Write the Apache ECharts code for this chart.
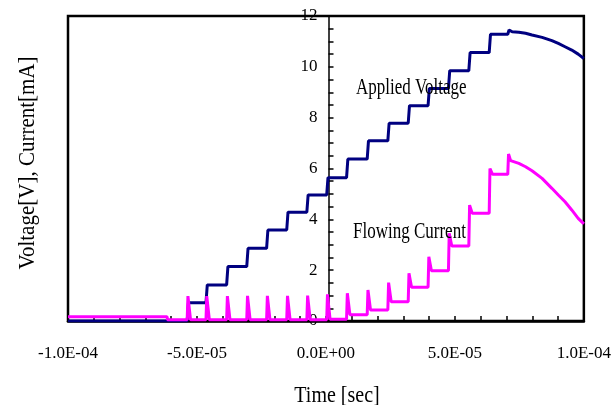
<!DOCTYPE html>
<html>
<head>
<meta charset="utf-8">
<script src="https://cdn.jsdelivr.net/npm/echarts@6/dist/echarts.min.js"></script>
<style>
  html, body { margin: 0; padding: 0; background: #fff; }
  #chart { width: 614px; height: 405px; }
</style>
</head>
<body>
<div id="chart"></div>
<script>
// times are in microseconds, the axis labels convert them to seconds
var stepTimes = [-53.8, -46.5, -38.5, -30.7, -23.0, -15.2, -7.4, 0.3, 8.0, 16.0, 24.0, 31.9, 39.6, 47.5, 55.4, 63.3, 70.5];
var voltageLevels = [0.72, 1.42, 2.14, 2.86, 3.58, 4.28, 4.96, 5.64, 6.37, 7.09, 7.78, 8.47, 9.15, 9.85, 10.56, 11.28, 11.45];
var voltageDecayTimes = [72.2, 74.8, 77.4, 79.9, 83.8, 87.6, 90.1, 92.7, 95.3, 97.8, 100];
var voltageDecay = [11.38, 11.36, 11.32, 11.25, 11.16, 11.03, 10.92, 10.79, 10.66, 10.5, 10.33];

var currentLeadTimes = [-100, -61.6];
var currentLead = [0.17, 0.17];
var spikePeaks = [0.98, 0.98, 0.98, 0.99, 0.99, 0.99, 1.0, 1.05, 1.09, 1.22, 1.51, 1.88, 2.53, 3.45, 4.56, 6.0, 6.57];
var currentBase = [0.05, 0.05, 0.05, 0.05, 0.05, 0.05, 0.05, 0.07, 0.25, 0.43, 0.76, 1.33, 1.98, 2.95, 4.24, 5.77];
var currentDecayTimes = [71.6, 74.8, 77.4, 79.9, 83.8, 87.6, 90.1, 92.7, 95.3, 97.8, 100];
var currentDecay = [6.31, 6.2, 6.07, 5.91, 5.61, 5.22, 4.96, 4.69, 4.37, 4.04, 3.82];

var xTicks = { min: -100, max: 100, interval: 50 };
var yTicks = { min: 0, max: 12, interval: 2 };

document.addEventListener('DOMContentLoaded', function() {
    var dom = document.getElementById('chart');
    var chart = echarts.init(dom);

    var gridLeft = 68, gridRight = 25;
    var plotWidth = 614 - gridLeft - gridRight;
    // the y axis sits at t = 0, so shift it in from the left edge of the grid
    var yAxisShift = plotWidth * (0 - xTicks.min) / (xTicks.max - xTicks.min);

    // step voltage: flat level, then a short rise at each step time
    var voltageData = [[-100, 0]];
    var prev = 0;
    for (var i = 0; i < stepTimes.length; i++) {
        voltageData.push([stepTimes[i], prev]);
        voltageData.push([stepTimes[i] + 0.5, voltageLevels[i]]);
        prev = voltageLevels[i];
    }
    for (var j = 0; j < voltageDecayTimes.length; j++) {
        voltageData.push([voltageDecayTimes[j], voltageDecay[j]]);
    }

    // current: a spike at every step, settling on a new base
    var currentData = [];
    for (var k = 0; k < currentLeadTimes.length; k++) {
        currentData.push([currentLeadTimes[k], currentLead[k]]);
    }
    var base = currentBase[0];
    currentData.push([currentLeadTimes[1] + 0.2, base]);
    for (var s = 0; s < stepTimes.length; s++) {
        currentData.push([stepTimes[s], base]);
        currentData.push([stepTimes[s] + 0.3, spikePeaks[s]]);
        if (s < currentBase.length) {
            currentData.push([stepTimes[s] + 1.3, currentBase[s]]);
            base = currentBase[s];
        }
    }
    for (var d = 0; d < currentDecayTimes.length; d++) {
        currentData.push([currentDecayTimes[d], currentDecay[d]]);
    }

    function sciLabel(v) {
        var s = (v / 1e6).toExponential(1).split('e');
        var e = parseInt(s[1], 10);
        var a = Math.abs(e);
        return s[0] + 'E' + (e < 0 ? '-' : '+') + (a < 10 ? '0' : '') + a;
    }

    var serif = '"Liberation Serif", "Times New Roman", serif';
    var tickStyle = { color: '#000', width: 1.5 };

    var option = {
        animation: false,
        grid: {
            left: gridLeft,
            right: gridRight,
            top: 16,
            bottom: 84,
            show: true,
            borderColor: '#000',
            borderWidth: 2.5
        },
        xAxis: {
            type: 'value',
            min: xTicks.min,
            max: xTicks.max,
            interval: xTicks.interval,
            axisLine: { onZero: false, lineStyle: { color: '#000', width: 2.5 } },
            axisTick: { inside: true, length: 5, lineStyle: tickStyle },
            minorTick: { show: true, splitNumber: 5, length: 5, lineStyle: tickStyle },
            splitLine: { show: false },
            axisLabel: {
                margin: 24,
                color: '#000',
                fontFamily: serif,
                fontSize: 17,
                showMinLabel: true,
                showMaxLabel: true,
                formatter: sciLabel
            }
        },
        yAxis: {
            type: 'value',
            min: yTicks.min,
            max: yTicks.max,
            interval: yTicks.interval,
            offset: -yAxisShift,
            axisLine: { show: true, onZero: false, lineStyle: { color: '#000', width: 1.5 } },
            axisTick: { show: true, inside: true, length: 5, lineStyle: tickStyle },
            minorTick: { show: true, splitNumber: 4, length: 5, lineStyle: tickStyle },
            splitLine: { show: false },
            axisLabel: {
                margin: 11,
                color: '#000',
                fontFamily: serif,
                fontSize: 17,
                showMinLabel: true,
                showMaxLabel: true
            }
        },
        graphic: [
            {
                type: 'text', x: 356, y: 88, scaleY: 1.4, z: 10,
                style: { text: 'Applied Voltage', font: '17px ' + serif, fill: '#000',
                         textVerticalAlign: 'middle', verticalAlign: 'middle' }
            },
            {
                type: 'text', x: 353, y: 232, scaleY: 1.35, z: 10,
                style: { text: 'Flowing Current', font: '17px ' + serif, fill: '#000',
                         textVerticalAlign: 'middle', verticalAlign: 'middle' }
            },
            {
                type: 'text', x: 28, y: 163, rotation: Math.PI / 2, scaleX: 1.05, scaleY: 1.2,
                style: { text: 'Voltage[V], Current[mA]', font: '20px ' + serif, fill: '#000',
                         textAlign: 'center', align: 'center',
                         textVerticalAlign: 'middle', verticalAlign: 'middle' }
            },
            {
                type: 'text', x: 337, y: 396, scaleY: 1.15,
                style: { text: 'Time [sec]', font: '20px ' + serif, fill: '#000',
                         textAlign: 'center', align: 'center',
                         textVerticalAlign: 'middle', verticalAlign: 'middle' }
            }
        ],
        series: [
            {
                name: 'Applied Voltage',
                type: 'line',
                data: voltageData,
                showSymbol: false,
                symbol: 'none',
                z: 2,
                lineStyle: { color: '#000080', width: 3 },
                itemStyle: { color: '#000080' }
            },
            {
                name: 'Flowing Current',
                type: 'line',
                data: currentData,
                showSymbol: false,
                symbol: 'none',
                z: 3,
                lineStyle: { color: '#ff00ff', width: 3 },
                itemStyle: { color: '#ff00ff' }
            }
        ]
    };
    chart.setOption(option);

    window.addEventListener('resize', function() {
        chart.resize();
    });
});
</script>
</body>
</html>
